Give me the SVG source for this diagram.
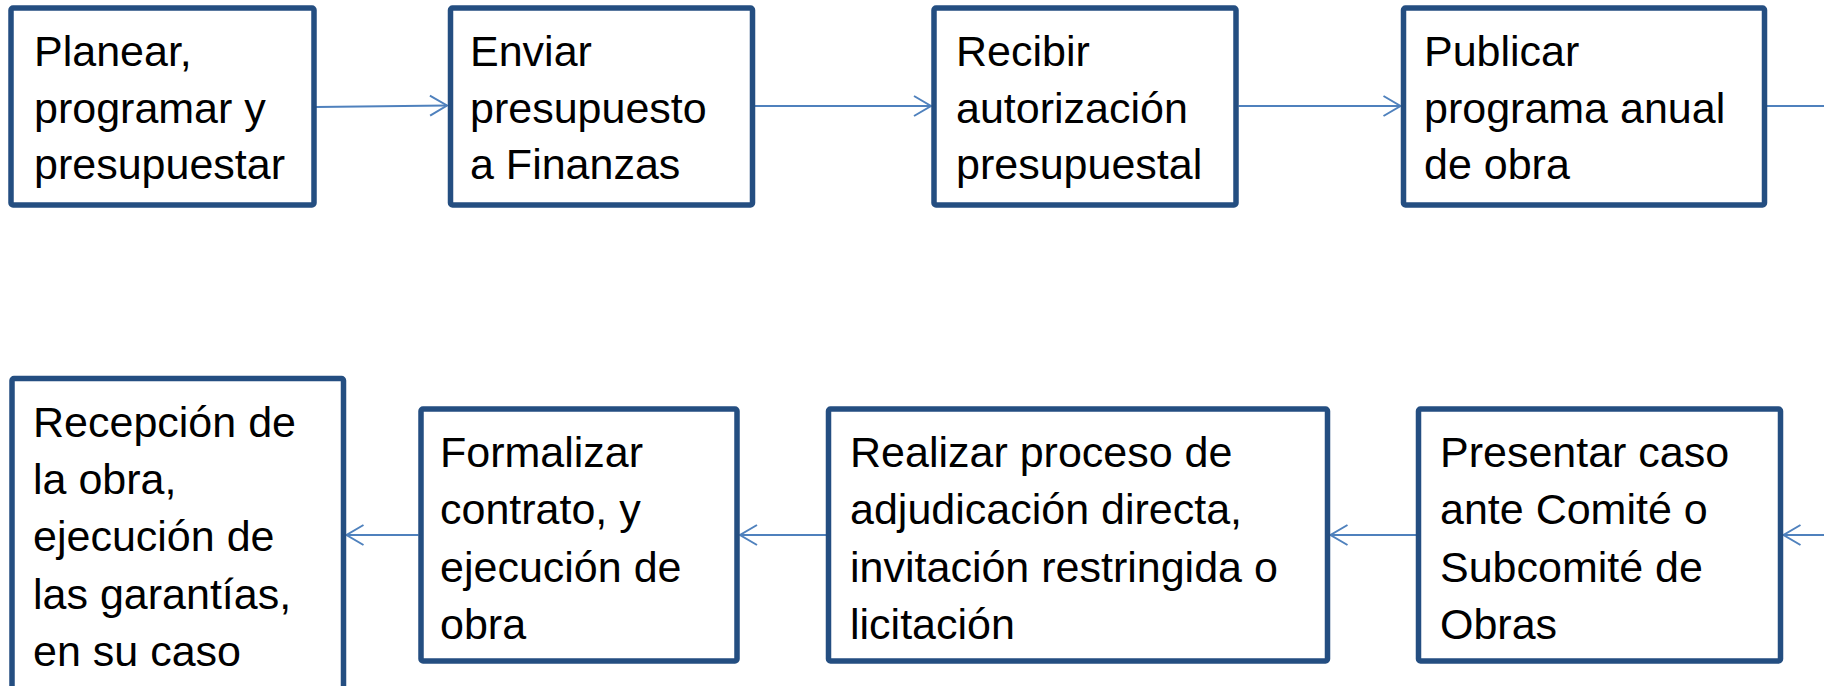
<svg xmlns="http://www.w3.org/2000/svg" width="1824" height="686" viewBox="0 0 1824 686">
<style>
.box{fill:#ffffff;stroke:#244E81;stroke-width:5.5}
.lbl{font-family:"Liberation Sans",Arial,sans-serif;font-size:43px;fill:#000000}
.conn{fill:none;stroke:#4F81BD;stroke-width:2}
</style>
<defs>
<marker id="ah" markerUnits="userSpaceOnUse" markerWidth="26" markerHeight="26" viewBox="-22 -13 26 26" refX="0" refY="0" orient="auto">
<path d="M-17,-10 L0,0 L-17,10" fill="none" stroke="#4F81BD" stroke-width="2"/>
</marker>
</defs>
<rect width="1824" height="686" fill="#ffffff"/>
<g id="connectors">
<path class="conn" d="M316,107 L447,105.5" marker-end="url(#ah)"/>
<path class="conn" d="M755,106 L931,106" marker-end="url(#ah)"/>
<path class="conn" d="M1238.5,106 L1400.5,106" marker-end="url(#ah)"/>
<path class="conn" d="M1767,106 L1824,106"/>
<path class="conn" d="M1824,535 L1783.5,535" marker-end="url(#ah)"/>
<path class="conn" d="M1416,535 L1330.5,535" marker-end="url(#ah)"/>
<path class="conn" d="M826,535 L740,535" marker-end="url(#ah)"/>
<path class="conn" d="M418.5,535 L346.5,535" marker-end="url(#ah)"/>
</g>
<g id="n1">
<rect class="box" x="11" y="8" width="303" height="197" rx="2"/>
<text class="lbl"><tspan x="34" y="66">Planear,</tspan><tspan x="34" y="122.5">programar y</tspan><tspan x="34" y="179">presupuestar</tspan></text>
</g>
<g id="n2">
<rect class="box" x="450.5" y="8" width="302" height="197" rx="2"/>
<text class="lbl"><tspan x="470" y="66">Enviar</tspan><tspan x="470" y="122.5">presupuesto</tspan><tspan x="470" y="179">a Finanzas</tspan></text>
</g>
<g id="n3">
<rect class="box" x="934" y="8" width="302" height="197" rx="2"/>
<text class="lbl"><tspan x="956" y="66">Recibir</tspan><tspan x="956" y="122.5">autorización</tspan><tspan x="956" y="179">presupuestal</tspan></text>
</g>
<g id="n4">
<rect class="box" x="1403.5" y="8" width="361" height="197" rx="2"/>
<text class="lbl"><tspan x="1424" y="66">Publicar</tspan><tspan x="1424" y="122.5">programa anual</tspan><tspan x="1424" y="179">de obra</tspan></text>
</g>
<g id="n5">
<rect class="box" x="1418.5" y="409" width="362" height="252" rx="2"/>
<text class="lbl"><tspan x="1440" y="466.5">Presentar caso</tspan><tspan x="1440" y="524">ante Comité o</tspan><tspan x="1440" y="581.5">Subcomité de</tspan><tspan x="1440" y="639">Obras</tspan></text>
</g>
<g id="n6">
<rect class="box" x="828.5" y="409" width="499" height="252" rx="2"/>
<text class="lbl"><tspan x="850" y="466.5">Realizar proceso de</tspan><tspan x="850" y="524">adjudicación directa,</tspan><tspan x="850" y="581.5">invitación restringida o</tspan><tspan x="850" y="639">licitación</tspan></text>
</g>
<g id="n7">
<rect class="box" x="421" y="409" width="316" height="252" rx="2"/>
<text class="lbl"><tspan x="440" y="466.5">Formalizar</tspan><tspan x="440" y="524">contrato, y</tspan><tspan x="440" y="581.5">ejecución de</tspan><tspan x="440" y="639">obra</tspan></text>
</g>
<g id="n8">
<rect class="box" x="12" y="378.5" width="331.5" height="360" rx="2"/>
<text class="lbl"><tspan x="33" y="436.5">Recepción de</tspan><tspan x="33" y="494">la obra,</tspan><tspan x="33" y="551">ejecución de</tspan><tspan x="33" y="608.5">las garantías,</tspan><tspan x="33" y="666">en su caso</tspan></text>
</g>
</svg>
